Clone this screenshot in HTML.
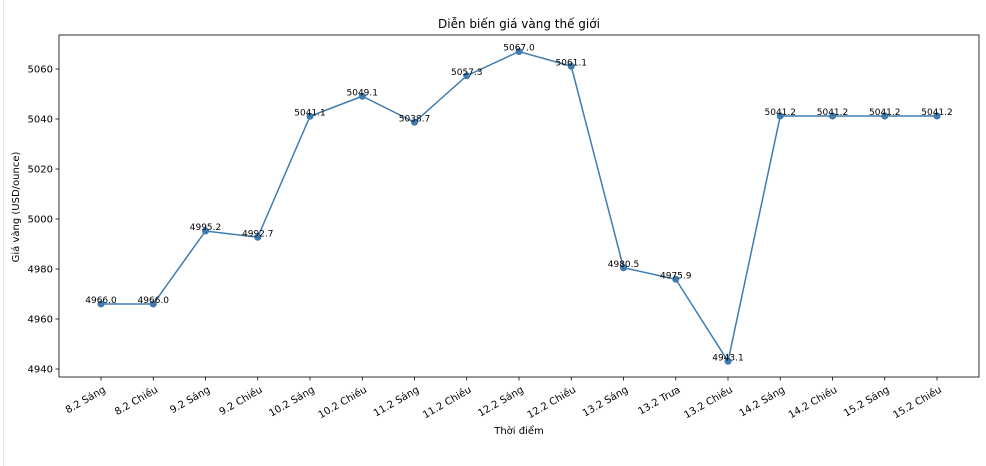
<!DOCTYPE html>
<html><head><meta charset="utf-8"><style>
body{margin:0;background:#fff;}
svg{display:block;font-family:"DejaVu Sans","Liberation Sans",sans-serif;}
</style></head><body>
<svg id="chart" width="986" height="466" viewBox="0 0 986 466">
<line x1="3.5" y1="0" x2="3.5" y2="466" stroke="#e6e6e6"/>
<text x="519" y="28" font-size="12" text-anchor="middle">Diễn biến giá vàng thế giới</text>
<g id="plot"></g>
<text x="519" y="434" font-size="10" text-anchor="middle">Thời điểm</text>
<text transform="translate(19,207) rotate(-90)" font-size="10" text-anchor="middle">Giá vàng (USD/ounce)</text>
</svg>
<script>
const categories=["8.2 Sáng","8.2 Chiều","9.2 Sáng","9.2 Chiều","10.2 Sáng","10.2 Chiều","11.2 Sáng","11.2 Chiều","12.2 Sáng","12.2 Chiều","13.2 Sáng","13.2 Trưa","13.2 Chiều","14.2 Sáng","14.2 Chiều","15.2 Sáng","15.2 Chiều"];
const prices=[4966.0,4966.0,4995.2,4992.7,5041.1,5049.1,5038.7,5057.3,5067.0,5061.1,4980.5,4975.9,4943.1,5041.2,5041.2,5041.2,5041.2];
const yTicks=[4940,4960,4980,5000,5020,5040,5060];

const L=59,R=979,T=35,B=377;
const x0=101,x1=937;
function xs(i){return x0+(x1-x0)*i/(categories.length-1);}
function ys(v){return 369-(v-4940)*2.5;}
const ns="http://www.w3.org/2000/svg";
const g=document.getElementById('plot');
function mk(t,a,txt){const e=document.createElementNS(ns,t);for(const k in a)e.setAttribute(k,a[k]);if(txt!==undefined)e.textContent=txt;g.appendChild(e);return e;}

let e=mk('rect',{x:L,y:T,width:R-L,height:B-T,fill:'none',stroke:'#000','stroke-width':0.8});



yTicks.forEach(v=>{
  const y=ys(v);
  let t=mk('line',{x1:L-3.5,x2:L,y1:y,y2:y,stroke:'#000','stroke-width':0.8});
  
  
  let l=mk('text',{x:L-6,y:y+3.5,'font-size':10,'text-anchor':'end'},String(v));
  
  
});
categories.forEach((c,i)=>{
  const x=xs(i);
  let t=mk('line',{x1:x,x2:x,y1:B,y2:B+3.5,stroke:'#000','stroke-width':0.8});
  
  
  let l=mk('text',{transform:`translate(${x+2},${B+9}) rotate(-30)`,'font-size':10,'text-anchor':'end','dominant-baseline':'hanging'},c);
  
  
});
let p=mk('polyline',{points:prices.map((v,i)=>xs(i)+','+ys(v)).join(' '),fill:'none',stroke:'#3e7bb0','stroke-width':1.5});


prices.forEach((v,i)=>{
  let c=mk('circle',{cx:xs(i),cy:ys(v),r:3.5,fill:'#3e7bb0'});
  
  
  let l=mk('text',{x:xs(i),y:ys(v)-1,'font-size':9,'text-anchor':'middle'},v.toFixed(1));
  
  
});
</script>
</body></html>
